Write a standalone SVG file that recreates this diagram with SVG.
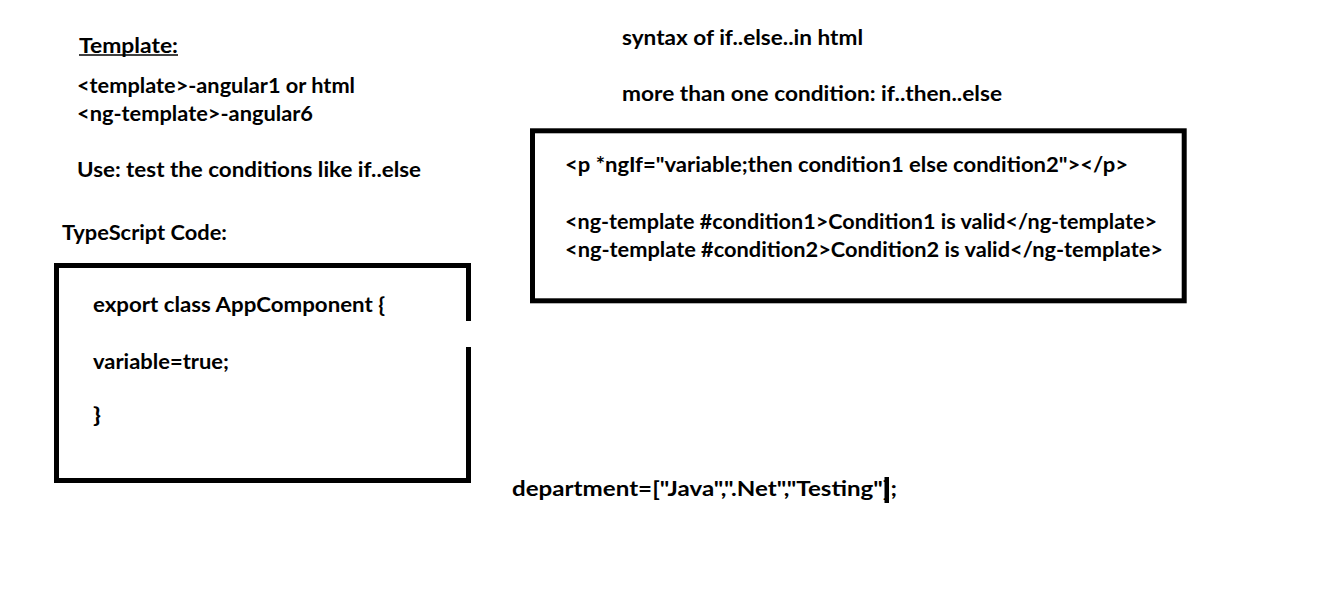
<svg xmlns="http://www.w3.org/2000/svg" width="1324" height="592" viewBox="0 0 1324 592">
<style>
  text { font-family: Lato, "Open Sans", "Liberation Sans", sans-serif; font-weight: bold; font-size: 20px; fill: #000; }
  .box { fill: none; stroke: #000; stroke-width: 5; stroke-linejoin: miter; }
</style>
<rect width="1324" height="592" fill="#fff"/>
<g id="template-notes">
  <text x="79" y="53" textLength="99" lengthAdjust="spacingAndGlyphs">Template:</text>
  <line x1="79" y1="55" x2="178" y2="55" stroke="#000" stroke-width="1.6"/>
  <text x="77" y="93" textLength="278" lengthAdjust="spacingAndGlyphs">&lt;template&gt;-angular1 or html</text>
  <text x="77" y="120.5" textLength="236" lengthAdjust="spacingAndGlyphs">&lt;ng-template&gt;-angular6</text>
  <text x="77" y="177" textLength="344" lengthAdjust="spacingAndGlyphs">Use: test the conditions like if..else</text>
  <text x="62" y="240" textLength="165" lengthAdjust="spacingAndGlyphs">TypeScript Code:</text>
</g>
<g id="typescript-box">
  <path class="box" d="M468.5,321 V265.5 H56.5 V480.5 H468.5 V347"/>
  <text x="93" y="312" textLength="292" lengthAdjust="spacingAndGlyphs">export class AppComponent {</text>
  <text x="93" y="368.5" textLength="136" lengthAdjust="spacingAndGlyphs">variable=true;</text>
  <text x="93" y="422" textLength="8" lengthAdjust="spacingAndGlyphs">}</text>
</g>
<g id="syntax-notes">
  <text x="622" y="45" textLength="241" lengthAdjust="spacingAndGlyphs">syntax of if..else..in html</text>
  <text x="622" y="101" textLength="380" lengthAdjust="spacingAndGlyphs">more than one condition: if..then..else</text>
</g>
<g id="html-box">
  <rect class="box" x="532.5" y="130.8" width="651.7" height="170"/>
  <text x="565" y="172" textLength="563" lengthAdjust="spacingAndGlyphs">&lt;p *ngIf="variable;then condition1 else condition2"&gt;&lt;/p&gt;</text>
  <text x="565" y="228.5" textLength="592" lengthAdjust="spacingAndGlyphs">&lt;ng-template #condition1&gt;Condition1 is valid&lt;/ng-template&gt;</text>
  <text x="565" y="256.5" textLength="598" lengthAdjust="spacingAndGlyphs">&lt;ng-template #condition2&gt;Condition2 is valid&lt;/ng-template&gt;</text>
</g>
<g id="department">
  <text x="512" y="496" textLength="385" lengthAdjust="spacingAndGlyphs">department=["Java",".Net","Testing"];</text>
  <rect x="884.5" y="477" width="4.5" height="26" fill="#000"/>
</g>
</svg>
